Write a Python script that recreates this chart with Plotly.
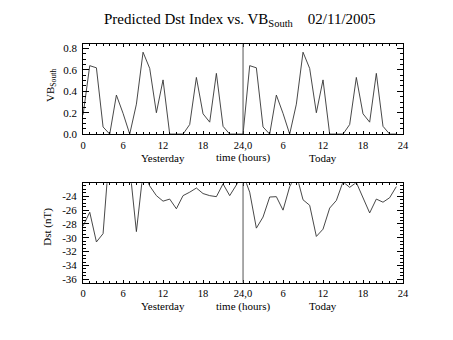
import plotly.graph_objects as go

# ---- data ----
hours = list(range(48))
vb_yesterday = [0.18, 0.64, 0.62, 0.067, 0.0, 0.365, 0.194, 0.0, 0.28, 0.766, 0.614, 0.2,
                0.507, 0.0, 0.0, 0.0, 0.09, 0.53, 0.19, 0.112, 0.568, 0.073, 0.0, 0.0]
vb_today = [0.0, 0.64, 0.62, 0.067, 0.0, 0.365, 0.194, 0.0, 0.28, 0.766, 0.614, 0.2,
            0.507, 0.0, 0.0, 0.0, 0.09, 0.53, 0.19, 0.112, 0.568, 0.073, 0.0, 0.0]
dst_yesterday = [-28.3, -26.3, -30.6, -29.4, -16.9, -15.0, -17.0, -19.8, -29.1, -20.5, -22.5, -23.9,
                 -24.7, -24.4, -25.8, -23.9, -23.4, -22.8, -23.6, -23.9, -24.05, -22.2, -23.9, -22.2]
dst_today = [-20.8, -23.4, -28.6, -27.0, -24.1, -24.05, -26.0, -22.6, -20.8, -24.5, -25.3, -29.8,
             -28.75, -25.7, -24.6, -21.9, -22.7, -22.0, -24.15, -26.4, -24.4, -24.85, -24.2, -22.6]
x_tickvals = [0, 6, 12, 18, 24, 30, 36, 42, 48]
x_ticktext = ["0", "6", "12", "18", "24,0", "6", "12", "18", "24"]
vb_tickvals = [0.0, 0.2, 0.4, 0.6, 0.8]
vb_ticktext = ["0.0", "0.2", "0.4", "0.6", "0.8"]
dst_tickvals = [-36, -34, -32, -30, -28, -26, -24]
dst_ticktext = ["-36", "-34", "-32", "-30", "-28", "-26", "-24"]

FONT = "Liberation Serif"
W, H = 453, 340

vb = vb_yesterday + vb_today
dst = dst_yesterday + dst_today

fig = go.Figure()
fig.add_trace(go.Scatter(x=hours, y=vb, mode="lines", line=dict(color="#333", width=0.9),
                         xaxis="x", yaxis="y", showlegend=False))
fig.add_trace(go.Scatter(x=hours, y=dst, mode="lines", line=dict(color="#333", width=0.9),
                         xaxis="x2", yaxis="y2", showlegend=False))

def xax(anchor):
    return dict(domain=[81.7 / W, 408.1 / W], anchor=anchor, range=[0, 48],
                tickvals=x_tickvals, ticktext=x_ticktext,
                showline=True, linecolor="black", linewidth=1, mirror="ticks",
                ticks="inside", ticklen=3, tickcolor="black", tickwidth=1,
                showgrid=False, zeroline=False, ticklabelstandoff=1,
                tickfont=dict(family=FONT, size=10.5, color="black"),
                minor=dict(ticks="inside", dtick=1, ticklen=2, tickcolor="black", showgrid=False))

def yax(anchor, dom, rng, tv, tt, mdt):
    return dict(domain=dom, anchor=anchor, range=rng, tickvals=tv, ticktext=tt,
                showline=True, linecolor="black", linewidth=1, mirror="ticks",
                ticks="inside", ticklen=6, tickcolor="black", tickwidth=1,
                showgrid=False, zeroline=False, ticklabelstandoff=3,
                tickfont=dict(family=FONT, size=11, color="black"),
                minor=dict(ticks="inside", dtick=mdt, ticklen=3, tickcolor="black", showgrid=False))

fig.update_layout(
    width=W, height=H, autosize=False,
    margin=dict(l=0, r=0, t=0, b=0),
    paper_bgcolor="white", plot_bgcolor="white",
    xaxis=xax("y"),
    yaxis=yax("x", [1 - 135.3 / H, 1 - 43.3 / H], [0, 0.84], vb_tickvals, vb_ticktext, 0.05),
    xaxis2=xax("y2"),
    yaxis2=yax("x2", [1 - 287.3 / H, 1 - 185.7 / H], [-36.47, -22.12], dst_tickvals, dst_ticktext, 0.5),
)

for xa, ya in (("x", "y"), ("x2", "y2")):
    fig.add_shape(type="line", xref=xa, yref=ya + " domain", x0=24, x1=24, y0=0, y1=1,
                  line=dict(color="#555", width=1))

ann_font = dict(family=FONT, size=11, color="black")
for yy in (159.5, 311.5):
    for xv, txt in ((12, "Yesterday"), (24, "time (hours)"), (36, "Today")):
        fig.add_annotation(x=xv, xref="x", y=1 - yy / H, yref="paper", text=txt,
                           showarrow=False, font=ann_font, xanchor="center", yanchor="middle")

fig.add_annotation(x=241.5 / W, xref="paper", y=1 - 18 / H, yref="paper",
                   text="Predicted Dst Index vs. VB<sub>South</sub>    02/11/2005",
                   showarrow=False, font=dict(family=FONT, size=15, color="black"),
                   xanchor="center", yanchor="middle")
fig.add_annotation(x=49 / W, xref="paper", y=1 - 86 / H, yref="paper",
                   text="VB<sub>South</sub>", textangle=-90,
                   showarrow=False, font=ann_font, xanchor="center", yanchor="middle")
fig.add_annotation(x=46 / W, xref="paper", y=1 - 230 / H, yref="paper",
                   text="Dst (nT)", textangle=-90,
                   showarrow=False, font=ann_font, xanchor="center", yanchor="middle")

fig.write_html("out.html")
